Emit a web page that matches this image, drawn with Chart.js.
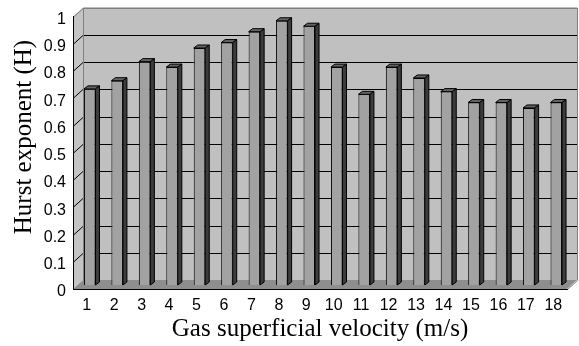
<!DOCTYPE html>
<html>
<head>
<meta charset="utf-8">
<script src="https://cdn.jsdelivr.net/npm/chart.js@4.4.1/dist/chart.umd.min.js"></script>
<style>
html, body { margin: 0; padding: 0; background: #fff; }
</style>
</head>
<body>
<canvas id="bar-chart-hurst" width="579" height="346"></canvas>
<script>
var velocities = ['1', '2', '3', '4', '5', '6', '7', '8', '9', '10', '11', '12', '13', '14', '15', '16', '17', '18'];
var hurstValues = [0.72, 0.75, 0.82, 0.80, 0.87, 0.89, 0.93, 0.97, 0.95, 0.80, 0.70, 0.80, 0.76, 0.71, 0.67, 0.67, 0.65, 0.67];
var yTicks = [0, 0.1, 0.2, 0.3, 0.4, 0.5, 0.6, 0.7, 0.8, 0.9, 1];

var wallDepthX = 10;   // depth of the 3d box
var wallDepthY = 9;
var barShiftX = 3;     // bars sit in the middle of the box
var barShiftY = 4;
var barSideX = 4;
var barSideY = 3;

// walls, floor and grid of the excel style 3d box
var wallsPlugin = {
    id: 'walls',
    beforeDraw: function (chart) {
        var ctx = chart.ctx;
        var area = chart.chartArea;
        var yScale = chart.scales.y;
        var L = area.left, R = area.right, T = area.top, B = area.bottom;
        var dx = wallDepthX, dy = wallDepthY;

        ctx.save();
        // back wall
        ctx.fillStyle = '#c0c0c0';
        ctx.fillRect(L + dx, T - dy, R - L, B - T);
        // left wall
        ctx.fillStyle = '#c4c4c4';
        ctx.beginPath();
        ctx.moveTo(L, B);
        ctx.lineTo(L, T);
        ctx.lineTo(L + dx, T - dy);
        ctx.lineTo(L + dx, B - dy);
        ctx.closePath();
        ctx.fill();
        // floor
        ctx.fillStyle = '#8e8e8e';
        ctx.beginPath();
        ctx.moveTo(L, B);
        ctx.lineTo(L + dx, B - dy);
        ctx.lineTo(R + dx, B - dy);
        ctx.lineTo(R, B);
        ctx.closePath();
        ctx.fill();

        // grid lines on both walls
        ctx.lineWidth = 1;
        yTicks.forEach(function (v) {
            var y = Math.round(yScale.getPixelForValue(v));
            if (v === 0) {
                return;
            }
            ctx.strokeStyle = v === 1 ? '#808080' : '#000';
            ctx.beginPath();
            ctx.moveTo(L, y + 0.5);
            ctx.lineTo(L + dx, y - dy + 0.5);
            ctx.lineTo(R + dx + 0.5, y - dy + 0.5);
            ctx.stroke();
        });

        // outline of the box
        ctx.strokeStyle = '#808080';
        ctx.beginPath();
        ctx.moveTo(L + dx + 0.5, B - dy);
        ctx.lineTo(L + dx + 0.5, T - dy + 0.5);
        ctx.lineTo(R + dx + 0.5, T - dy + 0.5);
        ctx.lineTo(R + dx + 0.5, B - dy + 0.5);
        ctx.lineTo(R + 0.5, B + 0.5);
        ctx.stroke();
        ctx.restore();
    },
    beforeDatasetsDraw: function (chart) {
        chart.ctx.save();
        chart.ctx.translate(barShiftX, -barShiftY);
    },
    afterDatasetsDraw: function (chart) {
        var ctx = chart.ctx;
        var meta = chart.getDatasetMeta(0);
        ctx.lineWidth = 1;
        ctx.strokeStyle = '#000';
        meta.data.forEach(function (bar) {
            var p = bar.getProps(['x', 'y', 'base', 'width'], true);
            var x0 = p.x - p.width / 2;
            var x1 = p.x + p.width / 2;
            // top face
            ctx.fillStyle = '#646464';
            ctx.beginPath();
            ctx.moveTo(x0, p.y);
            ctx.lineTo(x0 + barSideX, p.y - barSideY);
            ctx.lineTo(x1 + barSideX, p.y - barSideY);
            ctx.lineTo(x1, p.y);
            ctx.closePath();
            ctx.fill();
            ctx.stroke();
            // side face
            ctx.fillStyle = '#3c3c3c';
            ctx.beginPath();
            ctx.moveTo(x1, p.y);
            ctx.lineTo(x1 + barSideX, p.y - barSideY);
            ctx.lineTo(x1 + barSideX, p.base - barSideY);
            ctx.lineTo(x1, p.base);
            ctx.closePath();
            ctx.fill();
            ctx.stroke();
        });
        ctx.restore();

        // y axis title
        ctx.save();
        ctx.translate(24, 137);
        ctx.rotate(-Math.PI / 2);
        ctx.fillStyle = '#000';
        ctx.font = '25px "Liberation Serif"';
        ctx.textAlign = 'center';
        ctx.textBaseline = 'middle';
        ctx.fillText('Hurst exponent (H)', 0, 0);
        ctx.restore();
    }
};

var hurstCtx = document.getElementById('bar-chart-hurst');
var hurstChart = new Chart(hurstCtx, {
    type: 'bar',
    data: {
        labels: velocities,
        datasets: [
            {
                label: 'Hurst exponent',
                data: hurstValues,
                backgroundColor: '#a2a2a2',
                borderColor: '#000',
                borderWidth: 1,
                barPercentage: 0.84,
                categoryPercentage: 0.5
            }
        ]
    },
    options: {
        responsive: false,
        animation: false,
        devicePixelRatio: 1,
        layout: {
            padding: { left: 0, right: 12, top: 14, bottom: 0 }
        },
        plugins: {
            legend: { display: false },
            tooltip: { enabled: false }
        },
        scales: {
            x: {
                grid: { display: false, drawTicks: false },
                border: { display: true, color: '#000' },
                ticks: {
                    padding: 7,
                    color: '#000',
                    maxRotation: 0,
                    autoSkip: false,
                    font: { family: '"Liberation Sans"', size: 16 }
                },
                title: {
                    display: true,
                    text: 'Gas superficial velocity (m/s)',
                    color: '#000',
                    padding: { top: 0, bottom: 2 },
                    font: { family: '"Liberation Serif"', size: 25, lineHeight: 1.2 }
                },
                afterFit: function (scale) {
                    scale.height = 57;
                }
            },
            y: {
                min: 0,
                max: 1,
                grid: { display: false, drawTicks: false },
                border: { display: true, color: '#000' },
                afterBuildTicks: function (scale) {
                    scale.ticks = yTicks.map(function (v) { return { value: v }; });
                },
                ticks: {
                    padding: 7,
                    labelOffset: 3,
                    color: '#000',
                    font: { family: '"Liberation Sans"', size: 16 },
                    callback: function (value) {
                        return String(Math.round(value * 10) / 10);
                    }
                },
                afterFit: function (scale) {
                    scale.width = 73;
                }
            }
        }
    },
    plugins: [wallsPlugin]
});
</script>
</body>
</html>
